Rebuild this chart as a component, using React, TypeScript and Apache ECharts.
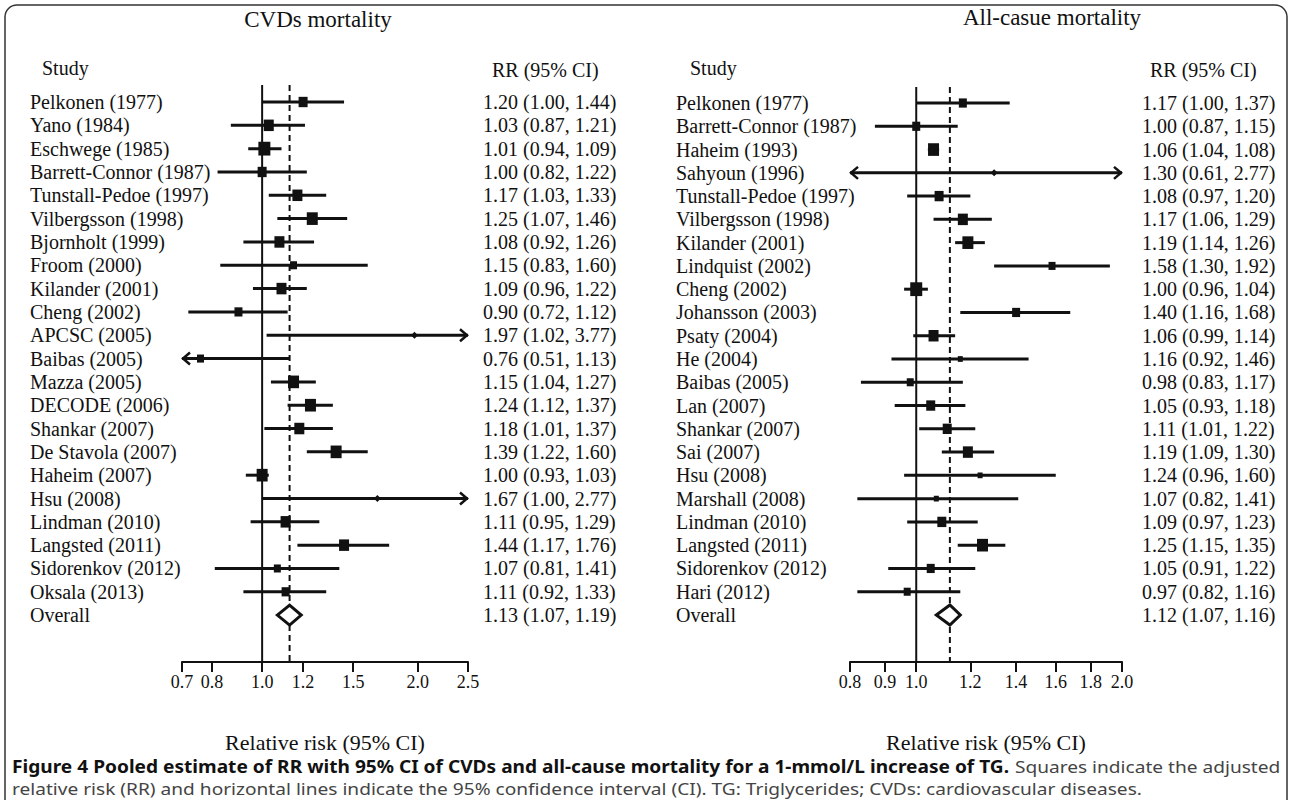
import React, { useEffect, useRef } from 'react';
import * as echarts from 'echarts';

// ---------- Data: CVDs mortality ----------
const cvdStudies = [
  'Pelkonen (1977)', 'Yano (1984)', 'Eschwege (1985)', 'Barrett-Connor (1987)', 'Tunstall-Pedoe (1997)',
  'Vilbergsson (1998)', 'Bjornholt (1999)', 'Froom (2000)', 'Kilander (2001)', 'Cheng (2002)',
  'APCSC (2005)', 'Baibas (2005)', 'Mazza (2005)', 'DECODE (2006)', 'Shankar (2007)',
  'De Stavola (2007)', 'Haheim (2007)', 'Hsu (2008)', 'Lindman (2010)', 'Langsted (2011)',
  'Sidorenkov (2012)', 'Oksala (2013)',
];
const cvdRR = [1.20, 1.03, 1.01, 1.00, 1.17, 1.25, 1.08, 1.15, 1.09, 0.90, 1.97, 0.76, 1.15, 1.24, 1.18, 1.39, 1.00, 1.67, 1.11, 1.44, 1.07, 1.11];
const cvdLow = [1.00, 0.87, 0.94, 0.82, 1.03, 1.07, 0.92, 0.83, 0.96, 0.72, 1.02, 0.51, 1.04, 1.12, 1.01, 1.22, 0.93, 1.00, 0.95, 1.17, 0.81, 0.92];
const cvdHigh = [1.44, 1.21, 1.09, 1.22, 1.33, 1.46, 1.26, 1.60, 1.22, 1.12, 3.77, 1.13, 1.27, 1.37, 1.37, 1.60, 1.03, 2.77, 1.29, 1.76, 1.41, 1.33];
const cvdWeights = [9, 10, 12, 9, 10, 11, 10, 7, 10, 8, 3, 7, 11, 11, 10, 11, 11, 3, 10, 10, 7, 8];
const cvdOverall = [1.13, 1.07, 1.19];
const cvdTicks = [0.7, 0.8, 1.0, 1.2, 1.5, 2.0, 2.5];

// ---------- Data: All-cause mortality ----------
const allStudies = [
  'Pelkonen (1977)', 'Barrett-Connor (1987)', 'Haheim (1993)', 'Sahyoun (1996)', 'Tunstall-Pedoe (1997)',
  'Vilbergsson (1998)', 'Kilander (2001)', 'Lindquist (2002)', 'Cheng (2002)', 'Johansson (2003)',
  'Psaty (2004)', 'He (2004)', 'Baibas (2005)', 'Lan (2007)', 'Shankar (2007)',
  'Sai (2007)', 'Hsu (2008)', 'Marshall (2008)', 'Lindman (2010)', 'Langsted (2011)',
  'Sidorenkov (2012)', 'Hari (2012)',
];
const allRR = [1.17, 1.00, 1.06, 1.30, 1.08, 1.17, 1.19, 1.58, 1.00, 1.40, 1.06, 1.16, 0.98, 1.05, 1.11, 1.19, 1.24, 1.07, 1.09, 1.25, 1.05, 0.97];
const allLow = [1.00, 0.87, 1.04, 0.61, 0.97, 1.06, 1.14, 1.30, 0.96, 1.16, 0.99, 0.92, 0.83, 0.93, 1.01, 1.09, 0.96, 0.82, 0.97, 1.15, 0.91, 0.82];
const allHigh = [1.37, 1.15, 1.08, 2.77, 1.20, 1.29, 1.26, 1.92, 1.04, 1.68, 1.14, 1.46, 1.17, 1.18, 1.22, 1.30, 1.60, 1.41, 1.23, 1.35, 1.22, 1.16];
const allWeights = [8, 8, 11, 3, 9, 10, 11, 7, 12, 8, 10, 5, 7, 9, 9, 10, 5, 5, 9, 11, 8, 7];
const allOverall = [1.12, 1.07, 1.16];
const allTicks = [0.8, 0.9, 1.0, 1.2, 1.4, 1.6, 1.8, 2.0];

const SERIF = "'Liberation Serif', 'Times New Roman', serif";
const SANS = "'Noto Sans', 'Open Sans', sans-serif";
const INK = '#111';

const fmt = (rr: number, lo: number, hi: number) => `${rr.toFixed(2)} (${lo.toFixed(2)}, ${hi.toFixed(2)})`;

function buildRows(studies: string[], rr: number[], lo: number[], hi: number[], w: number[], overall: number[]) {
  const rows = studies.map((_, i) => [i, Math.log(rr[i]), Math.log(lo[i]), Math.log(hi[i]), w[i], 0]);
  rows.push([studies.length, Math.log(overall[0]), Math.log(overall[1]), Math.log(overall[2]), 0, 1]);
  const names = [...studies, 'Overall'];
  const texts = [...studies.map((_, i) => fmt(rr[i], lo[i], hi[i])), fmt(overall[0], overall[1], overall[2])];
  return { rows, names, texts };
}

function makeRender(xMinLn: number, xMaxLn: number) {
  return (params: any, api: any) => {
    const row = api.value(0);
    const m = api.value(1);
    const lo = api.value(2);
    const hi = api.value(3);
    const w = api.value(4);
    const kind = api.value(5);
    const y = api.coord([m, row])[1];
    const xm = api.coord([m, row])[0];
    const xl = api.coord([Math.max(lo, xMinLn), row])[0];
    const xh = api.coord([Math.min(hi, xMaxLn), row])[0];
    const children: any[] = [];
    if (kind === 1) {
      children.push({
        type: 'polygon',
        shape: { points: [[xl, y], [xm, y - 10], [xh, y], [xm, y + 10]] },
        style: { fill: '#fff', stroke: INK, lineWidth: 3 },
      });
      return { type: 'group', children };
    }
    children.push({ type: 'line', shape: { x1: xl, y1: y, x2: xh, y2: y }, style: { stroke: INK, lineWidth: 3 } });
    if (lo < xMinLn) {
      children.push({
        type: 'polyline',
        shape: { points: [[xl + 8, y - 6], [xl + 1, y], [xl + 8, y + 6]] },
        style: { stroke: INK, lineWidth: 2.5, fill: 'none' },
      });
    }
    if (hi > xMaxLn) {
      children.push({
        type: 'polyline',
        shape: { points: [[xh - 8, y - 6], [xh - 1, y], [xh - 8, y + 6]] },
        style: { stroke: INK, lineWidth: 2.5, fill: 'none' },
      });
    }
    if (w < 5) {
      const r = 3.5;
      children.push({
        type: 'polygon',
        shape: { points: [[xm - r, y], [xm, y - r], [xm + r, y], [xm, y + r]] },
        style: { fill: INK },
      });
    } else {
      const h = w * 1.15;
      children.push({ type: 'rect', shape: { x: xm - w / 2, y: y - h / 2, width: w, height: h }, style: { fill: INK } });
    }
    return { type: 'group', children };
  };
}

export default function App() {
  const ref = useRef<HTMLDivElement>(null);

  useEffect(() => {
    if (!ref.current) return;
    const chart = echarts.init(ref.current, null, { renderer: 'svg' });

    const left = buildRows(cvdStudies, cvdRR, cvdLow, cvdHigh, cvdWeights, cvdOverall);
    const right = buildRows(allStudies, allRR, allLow, allHigh, allWeights, allOverall);
    const rowIdxL = left.names.map((_, i) => i);
    const rowIdxR = right.names.map((_, i) => i);

    const panels = [
      { grid: { left: 182, top: 85, width: 286, height: 577 }, yMin: -0.729, yMax: 24.01, ticks: cvdTicks, data: left, idx: rowIdxL, labelMargin: 152, rrMargin: 15, overall: cvdOverall[0] },
      { grid: { left: 850, top: 87, width: 272, height: 575 }, yMin: -0.688, yMax: 24.02, ticks: allTicks, data: right, idx: rowIdxR, labelMargin: 174, rrMargin: 20, overall: allOverall[0] },
    ];

    const grids: any[] = [];
    const xAxes: any[] = [];
    const yAxes: any[] = [];
    const series: any[] = [];

    panels.forEach((p, k) => {
      const xMin = Math.log(p.ticks[0]);
      const xMax = Math.log(p.ticks[p.ticks.length - 1]);
      const tickLn = p.ticks.map((t) => Math.log(t));
      grids.push({ ...p.grid, containLabel: false, outerBoundsMode: 'none' });
      xAxes.push({
        type: 'value', gridIndex: k, min: xMin, max: xMax, position: 'bottom',
        axisLine: { show: true, onZero: false, lineStyle: { color: INK, width: 2 } },
        axisTick: { show: true, customValues: tickLn, length: 10, inside: false, lineStyle: { color: INK, width: 2 } },
        axisLabel: { customValues: tickLn, formatter: (v: number) => Math.exp(v).toFixed(1), margin: 11, fontSize: 18, color: INK, fontFamily: SERIF },
        splitLine: { show: false },
        name: 'Relative risk (95% CI)', nameLocation: 'middle', nameGap: 69,
        nameTextStyle: { fontSize: 22, color: INK, fontFamily: SERIF },
      });
      const names = p.data.names;
      const texts = p.data.texts;
      yAxes.push({
        type: 'value', gridIndex: k, min: p.yMin, max: p.yMax, inverse: true, position: 'left',
        axisLine: { show: false, onZero: false }, axisTick: { show: false }, splitLine: { show: false },
        axisLabel: {
          customValues: p.idx, formatter: (v: number) => names[Math.round(v)] ?? '',
          align: 'left', margin: p.labelMargin, fontSize: 20, color: INK, fontFamily: SERIF,
        },
      });
      yAxes.push({
        type: 'value', gridIndex: k, min: p.yMin, max: p.yMax, inverse: true, position: 'right',
        axisLine: { show: false, onZero: false }, axisTick: { show: false }, splitLine: { show: false },
        axisLabel: {
          customValues: p.idx, formatter: (v: number) => texts[Math.round(v)] ?? '',
          align: 'left', margin: p.rrMargin, fontSize: 20, color: INK, fontFamily: SERIF,
        },
      });
      const yIdx = k * 2;
      series.push({
        type: 'line', xAxisIndex: k, yAxisIndex: yIdx, silent: true, showSymbol: false, z: 1,
        data: [[0, p.yMin], [0, p.yMax]], lineStyle: { color: INK, width: 2, type: 'solid' },
      });
      const ov = Math.log(p.overall);
      series.push({
        type: 'line', xAxisIndex: k, yAxisIndex: yIdx, silent: true, showSymbol: false, z: 1,
        data: [[ov, p.yMin], [ov, p.yMax]], lineStyle: { color: INK, width: 2, type: [6, 4] },
      });
      series.push({
        type: 'custom', xAxisIndex: k, yAxisIndex: yIdx, z: 3, silent: true,
        renderItem: makeRender(xMin, xMax),
        encode: { x: [1, 2, 3], y: 0 },
        data: p.data.rows,
      });
    });

    // Caption sizing
    const capSize = 17;
    const boldPart = 'Figure 4 Pooled estimate of RR with 95% CI of CVDs and all-cause mortality for a 1-mmol/L increase of TG.';
    const regPart1 = ' Squares indicate the adjusted';
    const regPart2 = 'relative risk (RR) and horizontal lines indicate the 95% confidence interval (CI). TG: Triglycerides; CVDs: cardiovascular diseases.';
    let capScale = 0.85;
    try {
      const ctx = document.createElement('canvas').getContext('2d');
      if (ctx) {
        ctx.font = `bold ${capSize}px ${SANS}`;
        const wb = ctx.measureText(boldPart).width;
        ctx.font = `${capSize}px ${SANS}`;
        const wr = ctx.measureText(regPart1).width;
        capScale = 1268 / (wb + wr);
      }
    } catch (e) { /* ignore */ }

    const graphic: any[] = [
      {
        type: 'rect', silent: true, z: 0,
        shape: { x: 5, y: 5, width: 1282, height: 830, r: 12 },
        style: { fill: 'none', stroke: '#333', lineWidth: 1.5 },
      },
      { type: 'text', x: 318, y: 19, style: { text: 'CVDs mortality', fontSize: 23, fontFamily: SERIF, fill: INK, textAlign: 'center', textVerticalAlign: 'middle' } },
      { type: 'text', x: 1052, y: 17, style: { text: 'All-casue mortality', fontSize: 23, fontFamily: SERIF, fill: INK, textAlign: 'center', textVerticalAlign: 'middle' } },
      { type: 'text', x: 42, y: 68, style: { text: 'Study', fontSize: 20, fontFamily: SERIF, fill: INK, textAlign: 'left', textVerticalAlign: 'middle' } },
      { type: 'text', x: 492, y: 70, style: { text: 'RR (95% CI)', fontSize: 20, fontFamily: SERIF, fill: INK, textAlign: 'left', textVerticalAlign: 'middle' } },
      { type: 'text', x: 690, y: 68, style: { text: 'Study', fontSize: 20, fontFamily: SERIF, fill: INK, textAlign: 'left', textVerticalAlign: 'middle' } },
      { type: 'text', x: 1150, y: 70, style: { text: 'RR (95% CI)', fontSize: 20, fontFamily: SERIF, fill: INK, textAlign: 'left', textVerticalAlign: 'middle' } },
      {
        type: 'text', x: 12, y: 766, scaleX: capScale,
        style: {
          text: `{b|${boldPart}}{r|${regPart1}}`, textAlign: 'left', textVerticalAlign: 'middle',
          rich: {
            b: { fontSize: capSize, fontFamily: SANS, fontWeight: 'bold', fill: '#111', color: '#111' },
            r: { fontSize: capSize, fontFamily: SANS, fill: '#444', color: '#444' },
          },
        },
      },
      {
        type: 'text', x: 12, y: 788, scaleX: capScale,
        style: { text: regPart2, fontSize: capSize, fontFamily: SANS, fill: '#444', textAlign: 'left', textVerticalAlign: 'middle' },
      },
    ];

    chart.setOption({
      animation: false,
      backgroundColor: '#fff',
      textStyle: { fontFamily: SERIF },
      grid: grids,
      xAxis: xAxes,
      yAxis: yAxes,
      series,
      graphic,
    });

    return () => chart.dispose();
  }, []);

  return <div ref={ref} style={{ position: 'fixed', left: 0, top: 0, width: 1292, height: 800 }} />;
}
